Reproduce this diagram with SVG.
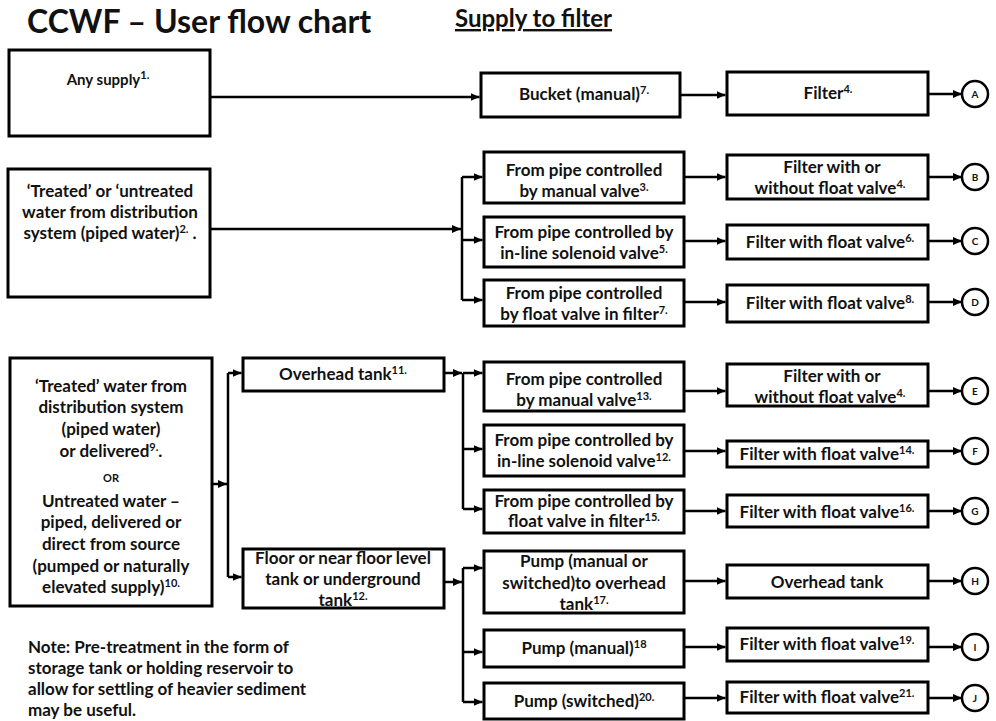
<svg xmlns="http://www.w3.org/2000/svg" width="996" height="721" viewBox="0 0 996 721">
<style>
.box{fill:#fff;stroke:#000;stroke-width:3}
.ln{fill:none;stroke:#000;stroke-width:2.5}
.t{font-family:Lato,"Open Sans","Liberation Sans",sans-serif;font-weight:bold;font-size:17px;text-anchor:middle;fill:#111}
.sm{font-size:15px}
.or{font-size:11px}
.s{font-size:11px}
.c{fill:#fff;stroke:#000;stroke-width:2.5}
.cl{font-family:Lato,"Liberation Sans",sans-serif;font-weight:bold;font-size:10px;text-anchor:middle;fill:#111}
</style>
<defs>
<marker id="ah" markerWidth="9" markerHeight="8" refX="9" refY="4" orient="auto" markerUnits="userSpaceOnUse"><path d="M0,0 L9,4 L0,8 z" fill="#000"/></marker>
</defs>
<g id="title">
<text x="27" y="33" font-family="Lato,'Open Sans',sans-serif" font-weight="bold" font-size="32" fill="#111">CCWF – User flow chart</text>
<text x="455" y="27" font-family="Lato,'Open Sans',sans-serif" font-weight="bold" font-size="24" fill="#111" text-decoration="underline">Supply to filter</text>
</g>
<g id="connectors" class="ln">
<path d="M210,97 H479.5" marker-end="url(#ah)"/>
<path d="M680,95 H725.5" marker-end="url(#ah)"/>
<path d="M928,94 H962" marker-end="url(#ah)"/>
<path d="M210,229 H461" marker-end="url(#ah)"/>
<path d="M462,177 V300"/>
<path d="M462,177 H482.5" marker-end="url(#ah)"/>
<path d="M462,240 H482.5" marker-end="url(#ah)"/>
<path d="M462,300 H482.5" marker-end="url(#ah)"/>
<path d="M684,177 H725.5" marker-end="url(#ah)"/>
<path d="M928,177 H962" marker-end="url(#ah)"/>
<path d="M684,241 H725.5" marker-end="url(#ah)"/>
<path d="M928,241 H962" marker-end="url(#ah)"/>
<path d="M684,302 H725.5" marker-end="url(#ah)"/>
<path d="M928,302 H962" marker-end="url(#ah)"/>
<path d="M212,484 H227" marker-end="url(#ah)"/>
<path d="M228,373 V577"/>
<path d="M228,373 H241.5" marker-end="url(#ah)"/>
<path d="M228,577 H241.5" marker-end="url(#ah)"/>
<path d="M444,373 H462" marker-end="url(#ah)"/>
<path d="M463,373 V509"/>
<path d="M463,373 H482.5" marker-end="url(#ah)"/>
<path d="M463,449 H482.5" marker-end="url(#ah)"/>
<path d="M463,509 H482.5" marker-end="url(#ah)"/>
<path d="M684,391 H725.5" marker-end="url(#ah)"/>
<path d="M928,391 H962" marker-end="url(#ah)"/>
<path d="M684,451 H725.5" marker-end="url(#ah)"/>
<path d="M928,451 H962" marker-end="url(#ah)"/>
<path d="M684,511 H725.5" marker-end="url(#ah)"/>
<path d="M928,511 H962" marker-end="url(#ah)"/>
<path d="M444,582 H462" marker-end="url(#ah)"/>
<path d="M463,568 V702"/>
<path d="M463,568 H482.5" marker-end="url(#ah)"/>
<path d="M463,652 H482.5" marker-end="url(#ah)"/>
<path d="M463,702 H482.5" marker-end="url(#ah)"/>
<path d="M684,581 H725.5" marker-end="url(#ah)"/>
<path d="M928,581 H962" marker-end="url(#ah)"/>
<path d="M684,647 H725.5" marker-end="url(#ah)"/>
<path d="M928,647 H962" marker-end="url(#ah)"/>
<path d="M684,698 H725.5" marker-end="url(#ah)"/>
<path d="M928,698 H962" marker-end="url(#ah)"/>
</g>
<g id="any-supply"><rect class="box" x="9" y="50" width="201" height="86"/>
<text class="t sm" x="108" y="85">Any supply<tspan class="s" dy="-6">1.</tspan></text></g>
<g id="piped"><rect class="box" x="8" y="169" width="202" height="128"/>
<text class="t" x="110" y="197">‘Treated’ or ‘untreated</text>
<text class="t" x="110" y="218">water from distribution</text>
<text class="t" x="110" y="239">system (piped water)<tspan class="s" dy="-6">2.</tspan><tspan dy="6"> .</tspan></text></g>
<g id="treated-untreated"><rect class="box" x="10" y="358" width="202" height="248"/>
<text class="t" x="111" y="392">‘Treated’ water from</text>
<text class="t" x="111" y="413">distribution system</text>
<text class="t" x="111" y="435">(piped water)</text>
<text class="t" x="111" y="457">or delivered<tspan class="s" dy="-6">9.</tspan><tspan dy="6">.</tspan></text>
<text class="t or" x="111" y="482">OR</text>
<text class="t" x="111" y="507">Untreated water –</text>
<text class="t" x="111" y="528">piped, delivered or</text>
<text class="t" x="111" y="550">direct from source</text>
<text class="t" x="111" y="572">(pumped or naturally</text>
<text class="t" x="111" y="593">elevated supply)<tspan class="s" dy="-6">10.</tspan></text></g>
<g id="overhead-tank"><rect class="box" x="243" y="358" width="201" height="33"/>
<text class="t" x="343" y="380">Overhead tank<tspan class="s" dy="-6">11.</tspan></text></g>
<g id="floor-tank"><rect class="box" x="243" y="549" width="201" height="59"/>
<text class="t" x="343" y="564">Floor or near floor level</text>
<text class="t" x="343" y="585">tank or underground</text>
<text class="t" x="343" y="606">tank<tspan class="s" dy="-6">12.</tspan></text></g>
<g id="bucket"><rect class="box" x="481" y="73" width="199" height="44"/>
<text class="t" x="584" y="100">Bucket (manual)<tspan class="s" dy="-6">7.</tspan></text></g>
<g id="filter-a"><rect class="box" x="727" y="72" width="201" height="43"/>
<text class="t" x="828" y="99">Filter<tspan class="s" dy="-6">4.</tspan></text></g>
<g id="b1"><rect class="box" x="484" y="152" width="200" height="51"/>
<text class="t" x="584" y="176">From pipe controlled</text>
<text class="t" x="584" y="197">by manual valve<tspan class="s" dy="-6">3.</tspan></text></g>
<g id="b2"><rect class="box" x="484" y="217" width="200" height="50"/>
<text class="t" x="584" y="238">From pipe controlled by</text>
<text class="t" x="584" y="259">in-line solenoid valve<tspan class="s" dy="-6">5.</tspan></text></g>
<g id="b3"><rect class="box" x="484" y="280" width="200" height="46"/>
<text class="t" x="584" y="299">From pipe controlled</text>
<text class="t" x="584" y="320">by float valve in filter<tspan class="s" dy="-6">7.</tspan></text></g>
<g id="filter-b"><rect class="box" x="727" y="155" width="201" height="44"/>
<text class="t" x="832" y="173">Filter with or</text>
<text class="t" x="830" y="194">without float valve<tspan class="s" dy="-6">4.</tspan></text></g>
<g id="filter-c"><rect class="box" x="727" y="225" width="201" height="34"/>
<text class="t" x="830" y="248">Filter with float valve<tspan class="s" dy="-6">6.</tspan></text></g>
<g id="filter-d"><rect class="box" x="727" y="285" width="201" height="37"/>
<text class="t" x="830" y="309">Filter with float valve<tspan class="s" dy="-6">8.</tspan></text></g>
<g id="e1"><rect class="box" x="484" y="362" width="200" height="49"/>
<text class="t" x="584" y="385">From pipe controlled</text>
<text class="t" x="584" y="406">by manual valve<tspan class="s" dy="-6">13.</tspan></text></g>
<g id="f1"><rect class="box" x="484" y="425" width="200" height="51"/>
<text class="t" x="584" y="446">From pipe controlled by</text>
<text class="t" x="584" y="467">in-line solenoid valve<tspan class="s" dy="-6">12.</tspan></text></g>
<g id="g1"><rect class="box" x="484" y="490" width="200" height="43"/>
<text class="t" x="584" y="507">From pipe controlled by</text>
<text class="t" x="584" y="527">float valve in filter<tspan class="s" dy="-6">15.</tspan></text></g>
<g id="filter-e"><rect class="box" x="727" y="364" width="201" height="42"/>
<text class="t" x="832" y="382">Filter with or</text>
<text class="t" x="830" y="403">without float valve<tspan class="s" dy="-6">4.</tspan></text></g>
<g id="filter-f"><rect class="box" x="727" y="441" width="201" height="26"/>
<text class="t" x="827" y="460">Filter with float valve<tspan class="s" dy="-6">14.</tspan></text></g>
<g id="filter-g"><rect class="box" x="727" y="495" width="201" height="32"/>
<text class="t" x="827" y="518">Filter with float valve<tspan class="s" dy="-6">16.</tspan></text></g>
<g id="h1"><rect class="box" x="484" y="551" width="200" height="62"/>
<text class="t" x="584" y="567">Pump (manual or</text>
<text class="t" x="584" y="589">switched)to overhead</text>
<text class="t" x="584" y="610">tank<tspan class="s" dy="-6">17.</tspan></text></g>
<g id="i1"><rect class="box" x="484" y="630" width="200" height="37"/>
<text class="t" x="584" y="654">Pump (manual)<tspan class="s" dy="-6">18</tspan></text></g>
<g id="j1"><rect class="box" x="484" y="683" width="200" height="36"/>
<text class="t" x="584" y="707">Pump (switched)<tspan class="s" dy="-6">20.</tspan></text></g>
<g id="filter-h"><rect class="box" x="727" y="565" width="201" height="33"/>
<text class="t" x="827" y="588">Overhead tank</text></g>
<g id="filter-i"><rect class="box" x="727" y="628" width="201" height="33"/>
<text class="t" x="827" y="650">Filter with float valve<tspan class="s" dy="-6">19.</tspan></text></g>
<g id="filter-j"><rect class="box" x="727" y="682" width="201" height="31"/>
<text class="t" x="827" y="703">Filter with float valve<tspan class="s" dy="-6">21.</tspan></text></g>
<g id="circle-a"><circle class="c" cx="975" cy="94" r="13"/><text class="cl" x="975" y="98">A</text></g>
<g id="circle-b"><circle class="c" cx="975" cy="177" r="13"/><text class="cl" x="975" y="181">B</text></g>
<g id="circle-c"><circle class="c" cx="975" cy="241" r="13"/><text class="cl" x="975" y="245">C</text></g>
<g id="circle-d"><circle class="c" cx="975" cy="302" r="13"/><text class="cl" x="975" y="306">D</text></g>
<g id="circle-e"><circle class="c" cx="975" cy="391" r="13"/><text class="cl" x="975" y="395">E</text></g>
<g id="circle-f"><circle class="c" cx="975" cy="451" r="13"/><text class="cl" x="975" y="455">F</text></g>
<g id="circle-g"><circle class="c" cx="975" cy="511" r="13"/><text class="cl" x="975" y="515">G</text></g>
<g id="circle-h"><circle class="c" cx="975" cy="581" r="13"/><text class="cl" x="975" y="585">H</text></g>
<g id="circle-i"><circle class="c" cx="975" cy="647" r="13"/><text class="cl" x="975" y="651">I</text></g>
<g id="circle-j"><circle class="c" cx="975" cy="698" r="13"/><text class="cl" x="975" y="702">J</text></g>
<g id="note" font-family="Lato,'Open Sans',sans-serif" font-weight="bold" font-size="17" fill="#111">
<text x="28" y="653">Note:  Pre-treatment in the form of</text>
<text x="28" y="674">storage tank or holding reservoir to</text>
<text x="28" y="695">allow for settling of heavier sediment</text>
<text x="28" y="716">may be useful.</text>
</g>
</svg>
